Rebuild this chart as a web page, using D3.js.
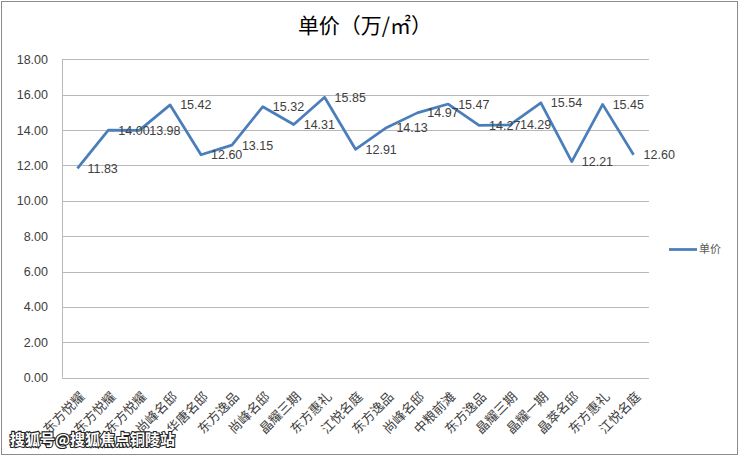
<!DOCTYPE html>
<html><head><meta charset="utf-8">
<script src="https://cdn.jsdelivr.net/npm/d3@7/dist/d3.min.js"></script>
<style>body{margin:0;background:#fff}svg{display:block}</style>
</head><body>
<svg id="c" width="740" height="456"></svg>
<script>
const categories = ["东方悦耀","东方悦耀","东方悦耀","尚峰名邸","华唐名邸","东方逸品","尚峰名邸","晶耀三期","东方惠礼","江悦名庭","东方逸品","尚峰名邸","中粮前滩","东方逸品","晶耀三期","晶耀一期","晶萃名邸","东方惠礼","江悦名庭"];
const values = [11.83,14.00,13.98,15.42,12.60,13.15,15.32,14.31,15.85,12.91,14.13,14.97,15.47,14.27,14.29,15.54,12.21,15.45,12.60];
const yTicks = [0,2,4,6,8,10,12,14,16,18];
const seriesName = "单价";
const title = "单价（万/㎡）";
const watermark = "搜狐号@搜狐焦点铜陵站";

const svg = d3.select("#c");
const W = 740, H = 456;
const m = {left: 62, right: 649, top: 59.3, bottom: 377.6};
const cjk = "'Noto Sans CJK SC','Noto Sans',sans-serif";
const num = "'Liberation Sans','DejaVu Sans',sans-serif";

svg.append("rect").attr("x",1.5).attr("y",1.5).attr("width",W-4).attr("height",H-3)
  .attr("fill","#fff").attr("stroke","#8c8c8c").attr("stroke-width",1);

const x = d3.scaleBand().domain(d3.range(categories.length)).range([m.left, m.right]);
const y = d3.scaleLinear().domain([0,18]).range([m.bottom, m.top]);

// gridlines
svg.append("g").selectAll("line").data(yTicks).join("line")
  .attr("x1", m.left).attr("x2", m.right)
  .attr("y1", d => Math.round(y(d))+0.5).attr("y2", d => Math.round(y(d))+0.5)
  .attr("stroke", "#b8b8b8").attr("stroke-width", 1);
// left axis line
svg.append("line").attr("x1", m.left+0.5).attr("x2", m.left+0.5)
  .attr("y1", m.top).attr("y2", m.bottom).attr("stroke","#b8b8b8");

// y labels
const yAxis = d3.axisLeft(y).tickValues(yTicks).tickFormat(d3.format(".2f")).tickSize(0).tickPadding(14);
const ga = svg.append("g").attr("transform",`translate(${m.left},0)`).call(yAxis);
ga.select(".domain").remove();
ga.selectAll("text").attr("font-family", num).attr("font-size", 12.5).attr("fill", "#404040");

// x labels
const xAxis = d3.axisBottom(x).tickFormat(i => categories[i]).tickSize(0).tickPadding(0);
const gx = svg.append("g").attr("transform",`translate(0,${m.bottom})`).call(xAxis);
gx.select(".domain").remove();
gx.selectAll("text")
  .attr("font-family", cjk).attr("font-size", 13).attr("fill", "#404040")
  .attr("text-anchor","end").attr("dy", null)
  .attr("transform", "translate(8,20) rotate(-45)");

// line
const line = d3.line().x((d,i) => x(i) + x.bandwidth()/2).y(d => y(d));
svg.append("path").datum(values).attr("d", line)
  .attr("fill","none").attr("stroke","#4a7ebb").attr("stroke-width",2.75)
  .attr("stroke-linejoin","round");

// data labels
svg.append("g").selectAll("text").data(values).join("text")
  .attr("x", (d,i) => x(i) + x.bandwidth()/2 + 10)
  .attr("y", d => y(d)).attr("dy","0.36em")
  .attr("font-family", num).attr("font-size", 12.5).attr("fill","#404040")
  .text(d => d.toFixed(2));

// title
svg.append("text").attr("x", 365).attr("y", 33).attr("text-anchor","middle")
  .attr("font-family", cjk).attr("font-size", 21).attr("fill","#000").text(title);

// legend
svg.append("line").attr("x1", 669).attr("x2", 697).attr("y1", 249.5).attr("y2", 249.5)
  .attr("stroke","#4a7ebb").attr("stroke-width",2.75);
svg.append("text").attr("x", 699).attr("y", 249.5).attr("dy","0.36em")
  .attr("font-family", cjk).attr("font-size", 11).attr("fill","#595959").text(seriesName);

// watermark
svg.append("text").attr("x", 10).attr("y", 445)
  .attr("font-family", cjk).attr("font-size", 15).attr("font-weight","bold")
  .attr("fill","#fff").attr("stroke","#222").attr("stroke-width",2.2)
  .attr("paint-order","stroke").text(watermark);
</script>
</body></html>
